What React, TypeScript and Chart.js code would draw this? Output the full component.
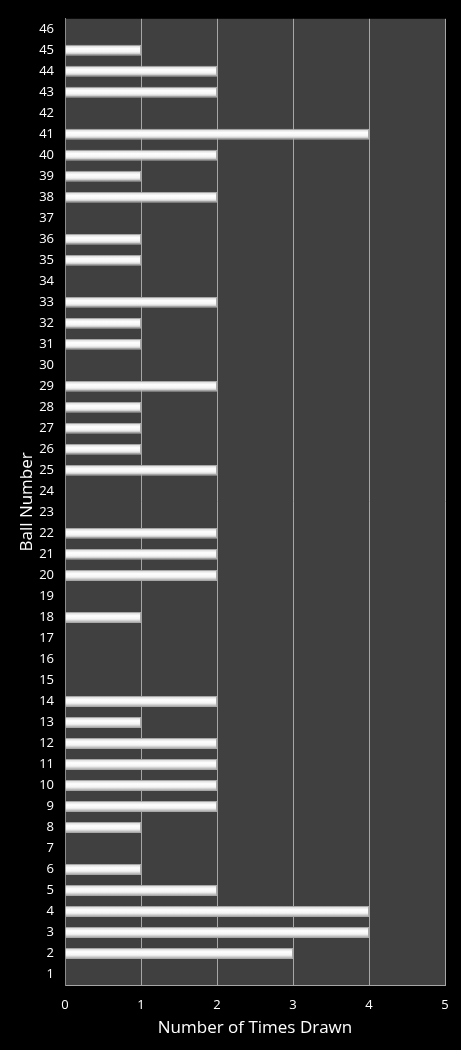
import { useEffect, useRef } from 'react'
import { Chart, registerables, ScriptableContext } from 'chart.js'

Chart.register(...registerables)

// ball numbers 1..46 (bottom to top)
const balls = [
  '1', '2', '3', '4', '5', '6', '7', '8', '9', '10',
  '11', '12', '13', '14', '15', '16', '17', '18', '19', '20',
  '21', '22', '23', '24', '25', '26', '27', '28', '29', '30',
  '31', '32', '33', '34', '35', '36', '37', '38', '39', '40',
  '41', '42', '43', '44', '45', '46',
]
const timesDrawn = [
  0, 3, 4, 4, 2, 1, 0, 1, 2, 2,
  2, 2, 1, 2, 0, 0, 0, 1, 0, 2,
  2, 2, 0, 0, 2, 1, 1, 1, 2, 0,
  1, 1, 2, 0, 1, 1, 0, 2, 1, 2,
  4, 0, 2, 2, 1, 0,
]
const xTicks = [0, 1, 2, 3, 4, 5]

const FONT = "'Open Sans', 'DejaVu Sans', sans-serif"

const plotBackground = {
  id: 'plotBackground',
  beforeDraw(chart: Chart) {
    const { ctx, chartArea } = chart
    ctx.save()
    ctx.fillStyle = '#404040'
    ctx.fillRect(chartArea.left, chartArea.top, chartArea.right - chartArea.left, chartArea.bottom - chartArea.top)
    ctx.restore()
  },
}

// soft 3d look across the bar thickness
function barFill(context: ScriptableContext<'bar'>) {
  const chart = context.chart
  const yScale = chart.scales.y
  if (!yScale || context.dataIndex === undefined) return '#f0f0f0'
  const y = yScale.getPixelForValue(context.dataIndex)
  if (!Number.isFinite(y)) return '#f0f0f0'
  const g = chart.ctx.createLinearGradient(0, y - 5.5, 0, y + 5.5)
  g.addColorStop(0, '#d0d0d0')
  g.addColorStop(0.35, '#ffffff')
  g.addColorStop(0.65, '#f4f4f4')
  g.addColorStop(1, '#9c9c9c')
  return g
}

export default function App() {
  const chartRef = useRef<HTMLCanvasElement>(null)
  const chartInstance = useRef<Chart | null>(null)

  useEffect(() => {
    document.body.style.margin = '0'
    document.body.style.background = '#000'
    if (!chartRef.current) return
    const ctx = chartRef.current.getContext('2d')
    if (!ctx) return

    chartInstance.current = new Chart(ctx, {
      type: 'bar',
      data: {
        labels: balls,
        datasets: [
          {
            data: timesDrawn,
            backgroundColor: barFill,
            borderColor: '#a8a8a8',
            borderWidth: 1,
            borderSkipped: 'start',
            categoryPercentage: 1,
            barPercentage: 0.52,
          },
        ],
      },
      options: {
        indexAxis: 'y',
        animation: false,
        responsive: true,
        maintainAspectRatio: false,
        layout: { padding: { top: 15, right: 16, left: 0, bottom: 0 } },
        plugins: { legend: { display: false }, tooltip: { enabled: false } },
        scales: {
          x: {
            min: 0,
            max: 5,
            afterBuildTicks: (scale) => {
              scale.ticks = xTicks.map((v) => ({ value: v }))
            },
            afterFit: (scale) => {
              scale.height = 65
            },
            grid: { color: '#a6a6a6', lineWidth: 1, drawTicks: false },
            border: { color: '#a6a6a6', width: 1 },
            ticks: { color: '#ffffff', padding: 12, font: { family: FONT, size: 13 } },
            title: {
              display: true,
              text: 'Number of Times Drawn',
              color: '#ffffff',
              font: { family: FONT, size: 17 },
              padding: { top: 0, bottom: 12 },
            },
          },
          y: {
            reverse: true,
            afterFit: (scale) => {
              scale.width = 65
            },
            grid: { display: false, drawTicks: false },
            border: { color: '#8c8c8c', width: 1 },
            ticks: { color: '#ffffff', padding: 11, autoSkip: false, font: { family: FONT, size: 13 } },
            title: {
              display: true,
              text: 'Ball Number',
              color: '#ffffff',
              font: { family: FONT, size: 17 },
              padding: { top: 17, bottom: 0 },
            },
          },
        },
      },
      plugins: [plotBackground],
    })

    return () => {
      if (chartInstance.current) {
        chartInstance.current.destroy()
        chartInstance.current = null
      }
    }
  }, [])

  return (
    <div style={{ width: 461, height: 1050, background: '#000', position: 'relative' }}>
      <canvas ref={chartRef}></canvas>
    </div>
  )
}
